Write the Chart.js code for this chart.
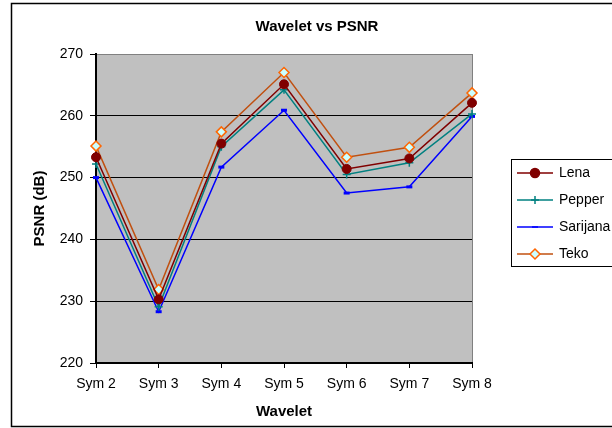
<!DOCTYPE html>
<html>
<head>
<meta charset="utf-8">
<script src="https://cdn.jsdelivr.net/npm/chart.js@4/dist/chart.umd.min.js"></script>
<style>
  html, body { margin: 0; padding: 0; background: #fff; }
  #wrap { width: 612px; height: 428px; }
</style>
</head>
<body>
<div id="wrap"><canvas id="psnrChart" width="612" height="428"></canvas></div>
<script>
const categories = ['Sym 2', 'Sym 3', 'Sym 4', 'Sym 5', 'Sym 6', 'Sym 7', 'Sym 8'];
const lena = [253.3, 230.3, 255.5, 265.1, 251.4, 253.1, 262.1];
const pepper = [252.2, 229.1, 255.0, 264.2, 250.5, 252.4, 260.3];
const sarijana = [250.0, 228.3, 251.7, 260.9, 247.5, 248.5, 259.9];
const teko = [255.1, 231.9, 257.4, 267.0, 253.3, 254.9, 263.7];
const yMin = 220;
const yMax = 270;
const yStep = 10;

const FONT = "'Liberation Sans', Arial, sans-serif";

// background, plot area fill, outer frame, title and legend
const decor = {
  id: 'decor',
  beforeDraw(chart) {
    const ctx = chart.ctx;
    const a = chart.chartArea;
    ctx.save();
    ctx.fillStyle = '#fff';
    ctx.fillRect(0, 0, chart.width, chart.height);
    ctx.fillStyle = '#C0C0C0';
    ctx.fillRect(a.left, a.top, a.right - a.left, a.bottom - a.top);
    ctx.strokeStyle = '#000';
    ctx.lineWidth = 1.5;
    ctx.strokeRect(11.5, 3.5, 700, 423);
    ctx.restore();
  },
  afterDraw(chart) {
    const ctx = chart.ctx;
    ctx.save();
    ctx.fillStyle = '#000';
    ctx.font = 'bold 15px ' + FONT;
    ctx.textAlign = 'center';
    ctx.textBaseline = 'middle';
    ctx.fillText('Wavelet vs PSNR', 317, 27);

    // legend
    ctx.strokeStyle = '#000';
    ctx.lineWidth = 1;
    ctx.strokeRect(511.5, 159.5, 120, 107);
    ctx.font = '14px ' + FONT;
    ctx.textAlign = 'left';
    const rows = [173, 200, 227, 254];
    chart.data.datasets.forEach((ds, i) => {
      const y = rows[i];
      ctx.strokeStyle = ds.borderColor;
      ctx.lineWidth = 1.5;
      ctx.beginPath();
      ctx.moveTo(517, y);
      ctx.lineTo(553, y);
      ctx.stroke();
      ctx.fillStyle = ds.pointBackgroundColor;
      ctx.strokeStyle = ds.pointBorderColor;
      Chart.helpers.drawPoint(ctx, {
        pointStyle: ds.pointStyle,
        radius: ds.pointRadius,
        rotation: 0,
        borderWidth: ds.pointBorderWidth
      }, 535, y);
      ctx.fillStyle = '#000';
      ctx.fillText(ds.label, 559, y);
    });
    ctx.restore();
  }
};

const ctx = document.getElementById('psnrChart').getContext('2d');
new Chart(ctx, {
  type: 'line',
  data: {
    labels: categories,
    datasets: [
      {
        label: 'Lena',
        data: lena,
        borderColor: '#800000',
        borderWidth: 1.5,
        pointStyle: 'circle',
        pointRadius: 4.5,
        pointBackgroundColor: '#800000',
        pointBorderColor: '#800000',
        pointBorderWidth: 1,
        clip: false
      },
      {
        label: 'Pepper',
        data: pepper,
        borderColor: '#008080',
        borderWidth: 1.5,
        pointStyle: 'cross',
        pointRadius: 4,
        pointBackgroundColor: '#008080',
        pointBorderColor: '#008080',
        pointBorderWidth: 1.5,
        clip: false
      },
      {
        label: 'Sarijana',
        data: sarijana,
        borderColor: '#0000FF',
        borderWidth: 1.5,
        pointStyle: 'line',
        pointRadius: 3,
        pointBackgroundColor: '#0000FF',
        pointBorderColor: '#0000FF',
        pointBorderWidth: 3,
        clip: false
      },
      {
        label: 'Teko',
        data: teko,
        borderColor: '#C05010',
        borderWidth: 1.5,
        pointStyle: 'rectRot',
        pointRadius: 5,
        pointBackgroundColor: '#CCFFFF',
        pointBorderColor: '#FF6600',
        pointBorderWidth: 1.5,
        clip: false
      }
    ]
  },
  options: {
    responsive: false,
    animation: false,
    events: [],
    layout: {
      padding: { left: 0, right: 140, top: 54, bottom: 0 }
    },
    plugins: {
      legend: { display: false },
      title: { display: false },
      tooltip: { enabled: false }
    },
    elements: {
      line: { tension: 0 }
    },
    scales: {
      x: {
        offset: false,
        afterFit: s => { s.height = 65; },
        grid: {
          color: c => (c.index === categories.length - 1 ? '#808080' : 'rgba(0,0,0,0)'),
          tickColor: '#000',
          tickLength: 5,
          lineWidth: 1
        },
        border: { color: '#000', width: 2 },
        ticks: {
          color: '#000',
          font: { family: FONT, size: 14 },
          padding: 8,
          maxRotation: 0,
          autoSkip: false
        },
        title: {
          display: true,
          text: 'Wavelet',
          color: '#000',
          font: { family: FONT, size: 15, weight: 'bold' },
          padding: { top: 0, bottom: 7 }
        }
      },
      y: {
        min: yMin,
        max: yMax,
        afterFit: s => { s.width = 96; },
        grid: {
          color: c => (c.tick && c.tick.value === yMax ? '#808080' : '#000'),
          tickColor: '#000',
          tickLength: 6,
          lineWidth: 1
        },
        border: { color: '#000', width: 2 },
        ticks: {
          stepSize: yStep,
          color: '#000',
          font: { family: FONT, size: 14 },
          padding: 7
        },
        title: {
          display: true,
          text: 'PSNR (dB)',
          color: '#000',
          font: { family: FONT, size: 15, weight: 'bold' },
          padding: { top: 31, bottom: 0 }
        }
      }
    }
  },
  plugins: [decor]
});
</script>
</body>
</html>
